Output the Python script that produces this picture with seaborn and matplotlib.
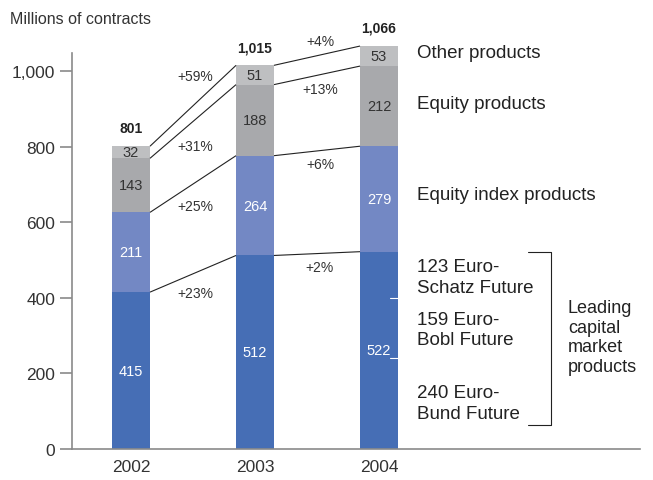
import matplotlib
matplotlib.use("Agg")
import matplotlib.pyplot as plt
import seaborn as sns
import numpy as np
import pandas as pd

years = ["2002", "2003", "2004"]
capital_market = [415, 512, 522]
equity_index = [211, 264, 279]
equity = [143, 188, 212]
other = [32, 51, 53]
totals = ["801", "1,015", "1,066"]
growth_02_03 = ["+23%", "+25%", "+31%", "+59%"]
growth_03_04 = ["+2%", "+6%", "+13%", "+4%"]
segment_names = ["Equity index products", "Equity products", "Other products"]
sub_products = ["240 Euro-\nBund Future", "159 Euro-\nBobl Future", "123 Euro-\nSchatz Future"]
sub_values = [240, 159, 123]

colors = ["#466eb5", "#7388c4", "#a8a9ac", "#bebfc1"]

sns.set_theme(style="white")
plt.rcParams['font.family'] = ['Liberation Sans', 'DejaVu Sans']

W, H = 653, 481
fig = plt.figure(figsize=(W / 100, H / 100), dpi=100)
ax = fig.add_axes([72 / W, (H - 450) / H, (640 - 72) / W, (450 - 34) / H])

segs = [capital_market, equity_index, equity, other]
cum = np.cumsum(np.array(segs), axis=0)
bw = 0.306

for k in range(3, -1, -1):
    df = pd.DataFrame({"year": years, "value": cum[k]})
    sns.barplot(data=df, x="year", y="value", color=colors[k], saturation=1,
                width=bw, ax=ax, linewidth=0, errorbar=None)

ymax = (450 - 34) / 0.378
ax.set_ylim(0, ymax)
ax.set_xlim(-0.476, 4.105)

for i in range(3):
    prev = 0
    for k in range(4):
        mid = prev + segs[k][i] / 2
        col = "white" if k < 2 else "#333333"
        ax.text(i, mid, str(segs[k][i]), ha="center", va="center", fontsize=10.5, color=col)
        prev = cum[k][i]
    ax.annotate(totals[i], (i, cum[3][i]), xytext=(0, 13), textcoords="offset points",
                ha="center", va="center", fontsize=10, fontweight="bold", color="#222222")

for i in range(2):
    for k in range(4):
        ax.plot([i + bw / 2, i + 1 - bw / 2], [cum[k][i], cum[k][i + 1]],
                color="#222222", lw=0.8, solid_capstyle="butt")

g1_y = [413, 643, 802, 987]
g2_y = [481, 754, 952, 1079]
for t, y in zip(growth_02_03, g1_y):
    ax.text(0.516, y, t, ha="center", va="center", fontsize=10, color="#333333")
for t, y in zip(growth_03_04, g2_y):
    ax.text(1.524, y, t, ha="center", va="center", fontsize=10, color="#333333")

ax.plot([2 + 0.09, 2 + bw / 2], [522 - 123, 522 - 123], color="white", lw=0.8)
ax.plot([2 + 0.09, 2 + bw / 2], [522 - 123 - 159, 522 - 123 - 159], color="white", lw=0.8)

for t, y in zip(["Other products", "Equity products", "Equity index products"], [1048, 915, 672]):
    ax.text(2.306, y, t, ha="left", va="center", fontsize=13.5, color="#222222")
for t, y in zip(sub_products, [122, 317, 455]):
    ax.text(2.306, y, t, ha="left", va="center", fontsize=13.5, color="#222222", linespacing=1.25)

bx0, bx1 = 3.20, 3.387
ax.plot([bx0, bx1, bx1, bx0], [521, 521, 63.5, 63.5], color="#222222", lw=0.8)
ax.text(3.524, 296, "Leading\ncapital\nmarket\nproducts", ha="left", va="center",
        fontsize=13, color="#222222", linespacing=1.2)

for s in ["top", "right"]:
    ax.spines[s].set_visible(False)
for s in ["left", "bottom"]:
    ax.spines[s].set_color("#8a8a8a")
    ax.spines[s].set_linewidth(1.2)
ax.spines["left"].set_bounds(0, (450 - 54) / 0.378)
ax.set_yticks([0, 200, 400, 600, 800, 1000])
ax.set_yticklabels(["0", "200", "400", "600", "800", "1,000"])
ax.tick_params(axis="y", length=9, width=1.2, color="#8a8a8a", labelsize=12.5,
               labelcolor="#333333", pad=3, left=True)
ax.tick_params(axis="x", length=0, labelsize=12.5, labelcolor="#333333", pad=7)
ax.set_xlabel("")
ax.set_ylabel("")

fig.text(10 / W, 1 - 20 / H, "Millions of contracts", ha="left", va="center",
         fontsize=11.5, color="#333333")

fig.savefig("out.png", dpi=100)
